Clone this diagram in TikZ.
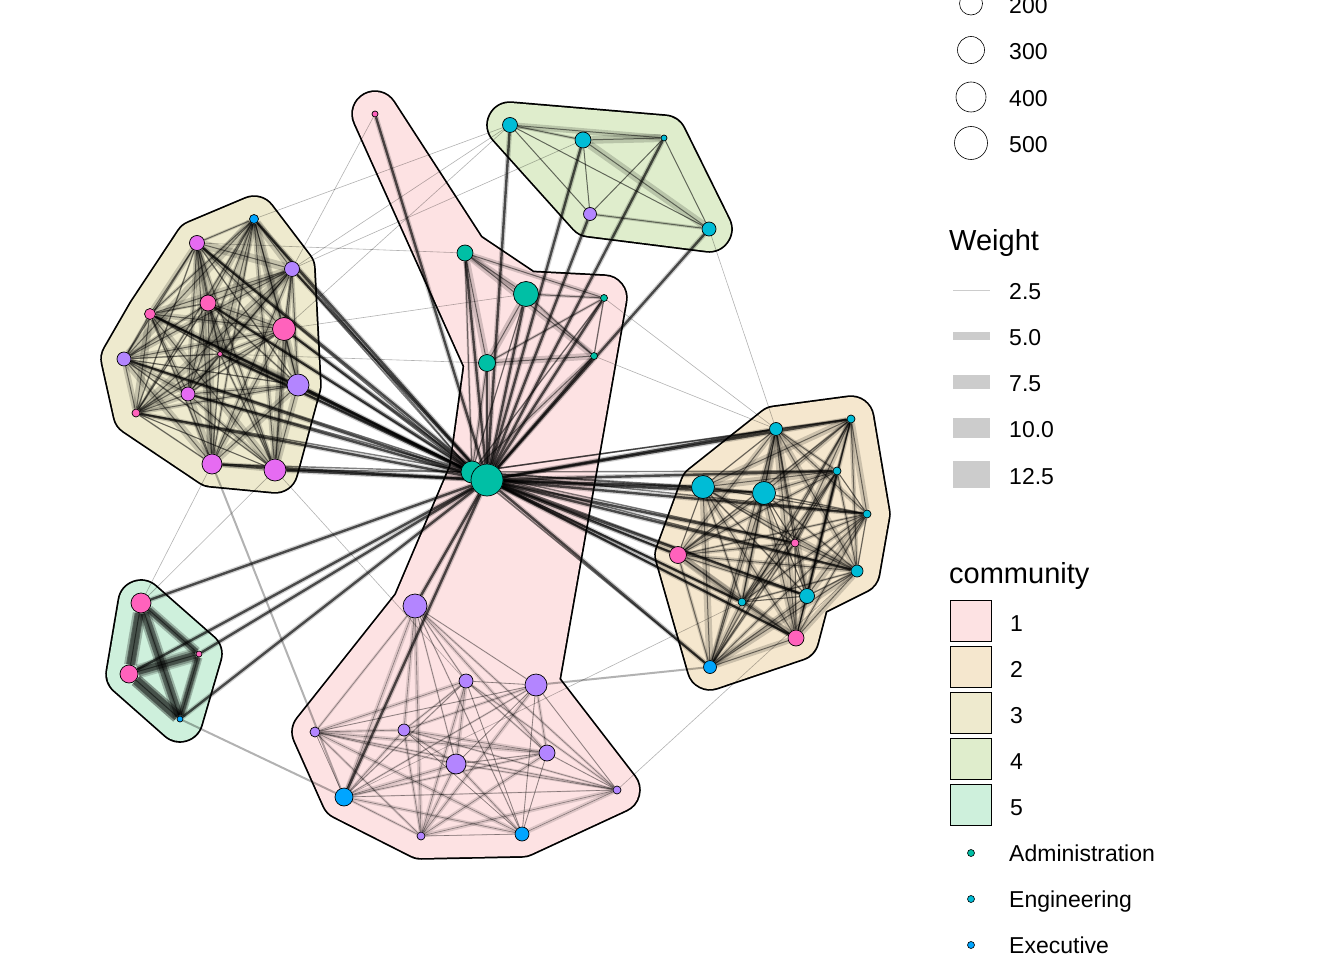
\documentclass[tikz,border=0pt]{standalone}
\usepackage{fontspec}
\setmainfont{Liberation Sans}
\definecolor{admin}{HTML}{00BFA5}
\definecolor{engin}{HTML}{00BCD6}
\definecolor{exec}{HTML}{00A5FF}
\definecolor{pinkd}{HTML}{FF62BC}
\definecolor{violetd}{HTML}{E66BF2}
\definecolor{purpled}{HTML}{B385FF}
\definecolor{hull1}{HTML}{FDE2E3}
\definecolor{hull2}{HTML}{F5E7CE}
\definecolor{hull3}{HTML}{EEEACE}
\definecolor{hull4}{HTML}{DFEDCC}
\definecolor{hull5}{HTML}{CEF0DC}
\pgfdeclarelayer{hulls}
\pgfdeclarelayer{links}
\pgfsetlayers{hulls,links,main}
\tikzset{
    % vertices
    vert/.style={circle, draw=black, line width=0.7pt, inner sep=0pt},
    % community hulls
    hull/.style={draw=#1, fill=#1, line width=44pt, line join=round,
        preaction={draw=black, line width=47.5pt, line join=round}},
    % links
    halo/.style={draw=black, draw opacity=0.17, line width=#1pt},
    core/.style={draw=black, draw opacity=0.5, line width=1pt},
    spoke/.style={draw=black, draw opacity=0.65, line width=2.4pt,
        preaction={draw=black, draw opacity=0.18, line width=5pt}},
    faint/.style={draw=black, draw opacity=0.3, line width=0.6pt},
    graylink/.style={draw=black, draw opacity=0.3, line width=2pt},
    % legend
    legtitle/.style={anchor=west, inner sep=0pt, text height=21pt, text depth=0pt,
        font=\fontsize{29}{34}\selectfont},
    legtext/.style={anchor=west, inner sep=0pt, text height=16.5pt, text depth=0pt,
        font=\fontsize{23}{27}\selectfont},
    sizekey/.style={circle, draw=black, line width=0.6pt, inner sep=0pt},
    weightkey/.style={rectangle, fill=black!20, inner sep=0pt, minimum width=37pt},
    combox/.style={rectangle, draw=black, line width=1.8pt, inner sep=0pt, minimum size=41pt},
    deptkey/.style={circle, draw=black, line width=0.6pt, inner sep=0pt, minimum size=7pt}
}

\begin{document}
\begin{tikzpicture}[x=1pt, y=-1pt]
\useasboundingbox (0,0) rectangle (1344,960);
\pgfmathsetseed{42}

% community 1 (node 8 is the hub)
\foreach \x/\y/\dep/\r [count=\i] in {375/114/pinkd/3, 465/253/admin/8, 526/294/admin/12.5,
    604/298/admin/3.5, 594/356/admin/3.5, 487/363/admin/8.5, 472/472/admin/11,
    487/480/admin/16, 415/606/purpled/12, 466/681/purpled/7, 536/685/purpled/11,
    315/732/purpled/5, 404/730/purpled/6, 456/764/purpled/10, 547/753/purpled/8,
    617/790/purpled/4, 344/797/exec/9, 421/836/purpled/4, 522/834/exec/7}
    \node[vert, fill=\dep, minimum size=2*\r] (c1-\i) at (\x,\y) {};
% community 2
\foreach \x/\y/\dep/\r [count=\i] in {776/429/engin/6.5, 851/419/engin/4, 837/471/engin/4,
    703/487/engin/11.5, 764/493/engin/11.5, 867/514/engin/4, 795/543/pinkd/4,
    678/555/pinkd/8.5, 857/571/engin/6, 807/596/engin/7.5, 742/602/engin/4,
    796/638/pinkd/8, 710/667/exec/6.5}
    \node[vert, fill=\dep, minimum size=2*\r] (c2-\i) at (\x,\y) {};
% community 3
\foreach \x/\y/\dep/\r [count=\i] in {254/219/exec/4.5, 197/243/violetd/7.5, 292/269/purpled/7.5,
    208/303/pinkd/8, 150/314/pinkd/5.5, 284/329/pinkd/11.5, 124/359/purpled/7,
    220/354/pinkd/2.5, 298/385/purpled/11, 188/394/violetd/7, 136/413/pinkd/4,
    212/464/violetd/10, 275/470/violetd/11}
    \node[vert, fill=\dep, minimum size=2*\r] (c3-\i) at (\x,\y) {};
% community 4
\foreach \x/\y/\dep/\r [count=\i] in {510/125/engin/7.5, 583/140/engin/8, 664/138/engin/3,
    590/214/purpled/6.5, 709/229/engin/7}
    \node[vert, fill=\dep, minimum size=2*\r] (c4-\i) at (\x,\y) {};
% community 5
\foreach \x/\y/\dep/\r [count=\i] in {141/603/pinkd/10, 199/654/pinkd/3, 129/674/pinkd/9,
    180/719/exec/3}
    \node[vert, fill=\dep, minimum size=2*\r] (c5-\i) at (\x,\y) {};

% hulls
\begin{pgfonlayer}{hulls}
\draw[hull=hull1] (c1-1.center) -- (c1-2.center) -- (c1-3.center) -- (c1-4.center)
    -- (c1-11.center) -- (c1-16.center) -- (c1-19.center) -- (c1-18.center)
    -- (c1-17.center) -- (c1-12.center) -- (c1-9.center) -- (c1-7.center)
    -- (c1-6.center) -- cycle;
\draw[hull=hull4] (c4-1.center) -- (c4-3.center) -- (c4-5.center) -- (c4-4.center) -- cycle;
\draw[hull=hull2] (c2-1.center) -- (c2-2.center) -- (c2-6.center) -- (c2-9.center)
    -- (c2-10.center) -- (c2-12.center) -- (c2-13.center) -- (c2-8.center)
    -- (c2-4.center) -- cycle;
\draw[hull=hull3] (c3-1.center) -- (c3-3.center) -- (c3-9.center) -- (c3-13.center)
    -- (c3-12.center) -- (c3-11.center) -- (c3-7.center) -- (c3-5.center)
    -- (c3-2.center) -- cycle;
\draw[hull=hull5] (c5-1.center) -- (c5-2.center) -- (c5-4.center) -- (c5-3.center) -- cycle;
\end{pgfonlayer}

% links
\begin{pgfonlayer}{links}
% inside communities 2, 3 and 5
\foreach \cm/\n/\s in {c2/13/7, c3/13/8, c5/4/14} {
    \foreach \i in {1,...,\n} {
        \foreach \j in {1,...,\n} {
            \ifnum\i<\j
                \pgfmathsetmacro\w{1+\s*rnd}
                \draw[halo=\w] (\cm-\i) -- (\cm-\j);
                \draw[core] (\cm-\i) -- (\cm-\j);
            \fi
        }
    }
}
\foreach \p/\q/\w in {1/3/9, 1/4/8, 3/4/9, 2/3/7, 1/2/6, 2/4/5} {
    \draw[halo=\w+4, draw opacity=0.25] (c5-\p) -- (c5-\q);
    \draw[halo=\w, draw opacity=0.45] (c5-\p) -- (c5-\q);
}
% community 1, upper group
\foreach \i in {2,...,7} {
    \foreach \j in {2,...,7} {
        \ifnum\i<\j
            \pgfmathsetmacro\w{1+6*rnd}
            \draw[halo=\w] (c1-\i) -- (c1-\j);
            \draw[core] (c1-\i) -- (c1-\j);
        \fi
    }
}
% community 1, lower group
\foreach \i in {9,...,19} {
    \foreach \j in {9,...,19} {
        \ifnum\i<\j
            \pgfmathsetmacro\w{0.5+4*rnd}
            \draw[halo=\w, draw opacity=0.13] (c1-\i) -- (c1-\j);
            \draw[faint, draw opacity=0.4] (c1-\i) -- (c1-\j);
        \fi
    }
}
% community 4
\foreach \p/\q/\w in {1/2/3, 1/3/6, 2/3/8, 1/4/0.5, 1/5/0.5, 2/4/0.5, 2/5/8, 3/4/0.5,
    3/5/0.5, 4/5/3} {
    \draw[halo=\w] (c4-\p) -- (c4-\q);
    \draw[core] (c4-\p) -- (c4-\q);
}
% spokes from the hub
\foreach \cm/\n in {c2/13, c3/13, c4/5, c5/4}
    \foreach \i in {1,...,\n}
        \draw[spoke] (c1-8) -- (\cm-\i);
\foreach \i in {1,...,6,9,...,19}
    \draw[spoke] (c1-8) -- (c1-\i);
\foreach \cm/\n in {c2/13, c3/13}
    \foreach \i in {1,...,\n}
        \draw[core, line width=1.4pt] (c1-7) -- (\cm-\i);
% between communities
\foreach \p/\q in {c1-1/c3-3, c3-2/c1-2, c4-1/c3-3, c4-1/c3-6, c4-2/c3-3, c3-6/c1-3,
    c3-8/c1-6, c1-4/c2-1, c1-5/c2-1, c4-5/c2-1, c3-12/c5-1, c3-13/c5-1,
    c3-13/c1-10, c2-11/c1-17, c2-9/c1-16, c3-1/c4-1}
    \draw[faint] (\p) -- (\q);
\foreach \p/\q in {c5-4/c1-17, c2-13/c1-11, c3-12/c1-17}
    \draw[graylink] (\p) -- (\q);
\end{pgfonlayer}

% legend: size
\foreach \y/\r/\t in {3.5/11.5/200, 50/13.5/300, 97/15/400, 143/16.5/500} {
    \node[sizekey, minimum size=2*\r] (size\t) at (971,\y) {};
    \node[legtext] (sizelab\t) at (1009,\y+1.5) {\t};
}
% legend: weight
\node[legtitle] (weighttitle) at (949,240) {Weight};
\foreach \y/\h/\t [count=\i] in {290/1/2.5, 336/8/5.0, 382/14/7.5, 428/20/10.0, 474.5/27/12.5} {
    \node[weightkey, minimum height=\h] (wkey\i) at (971.5,\y) {};
    \node[legtext] (wlab\i) at (1009,\y+1.5) {\t};
}
% legend: community
\node[legtitle] (comtitle) at (949,573) {community};
\foreach \i in {1,...,5} {
    \node[combox, fill=hull\i] (combox\i) at (971,621+46*\i-46) {};
    \node[legtext] (comlab\i) at (1010,623+46*\i-46) {\i};
}
% legend: department
\foreach \dep/\t [count=\i] in {admin/Administration, engin/Engineering, exec/Executive} {
    \node[deptkey, fill=\dep] (dept\i) at (971,807+46*\i) {};
    \node[legtext] (deptlab\i) at (1009,807.5+46*\i) {\t};
}
\end{tikzpicture}
\end{document}
